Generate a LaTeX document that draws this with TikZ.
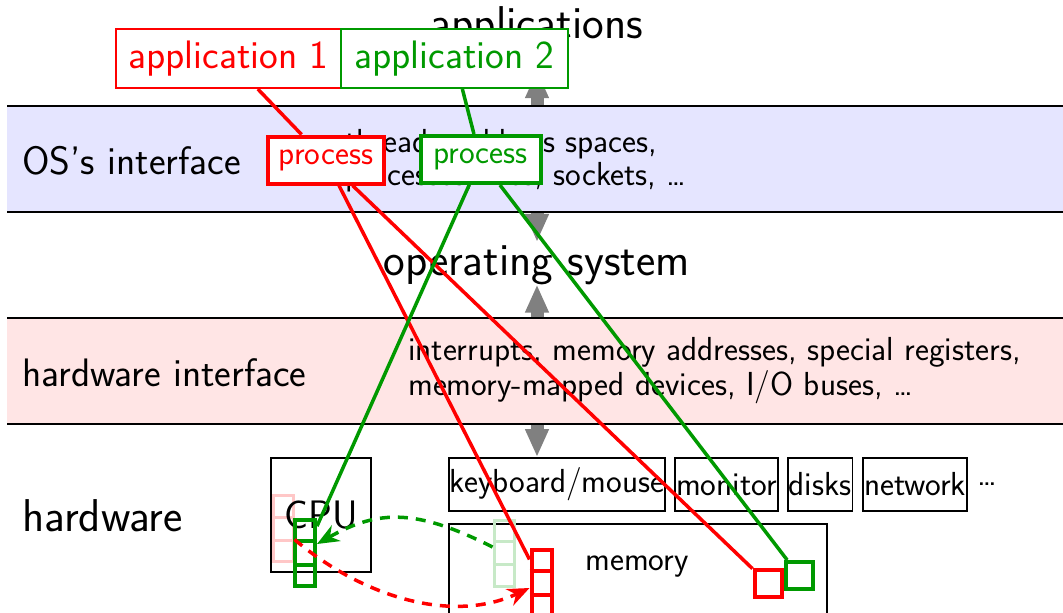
\documentclass[tikz,border=0pt]{standalone}
\usepackage{fontspec}
\renewcommand\familydefault{\sfdefault}
\usetikzlibrary{arrows.meta,positioning,calc}

\definecolor{appred}{RGB}{255,0,0}
\definecolor{appgreen}{RGB}{0,153,0}
\definecolor{layergray}{RGB}{128,128,128}

% horizontal dividers of a register column (node, colour, line width)
\newcommand\regdividers[3]{%
  \foreach \f in {1,2}
    \draw[#2, line width=#3]
      ($(#1.north west)!\f/3!(#1.south west)$) -- ($(#1.north east)!\f/3!(#1.south east)$);}

\begin{document}
\begin{tikzpicture}[x=1pt,y=-1pt,
  labelbig/.style={font=\fontsize{46}{52}\selectfont},
  labelmid/.style={font=\fontsize{39.7}{45}\selectfont},
  textbody/.style={font=\fontsize{33.3}{38}\selectfont},
  plain/.style={inner sep=0pt},
  appbox/.style={draw, fill=white, line width=2pt, labelmid, minimum height=59pt, inner sep=0pt},
  procbox/.style={draw, fill=white, line width=4pt, textbody, minimum height=47pt, inner sep=0pt},
  devbox/.style={draw, line width=1.8pt, textbody, minimum height=53pt, inner xsep=1pt, inner ysep=0pt},
  regcol/.style={draw, rectangle, minimum width=20pt, minimum height=66pt, inner sep=0pt},
  slot/.style={draw, rectangle, minimum width=27pt, minimum height=27pt, inner sep=0pt, line width=4pt},
  link/.style={line width=3.5pt},
  move/.style={link, dash pattern=on 10pt off 8pt},
  layerarrow/.style={draw=layergray, line width=13pt,
    {Triangle[width=22pt,length=28pt]}-{Triangle[width=22pt,length=28pt]}},
]
\useasboundingbox (0,0) rectangle (1063,613);

% layer names in the middle column
\node[labelbig, anchor=base, inner sep=3pt] (apps) at (537,38) {applications};
\node[labelbig, anchor=base, inner sep=3pt] (os) at (537,275) {operating system};

% hardware devices
\node[devbox, anchor=west] (kbd) at (448,484.5) {keyboard/mouse};
\node[devbox, right=8pt of kbd] (mon) {monitor};
\node[devbox, right=8pt of mon] (disks) {disks};
\node[devbox, right=9pt of disks] (net) {network};
\node[textbody, right=10pt of net, inner sep=0pt] (more) {\ldots};

% arrows between the layers (partly hidden by the bands)
\draw[layerarrow] ([yshift=-20pt]apps.south) -- (apps.south |- os.north);
\draw[layerarrow] ([yshift=3pt]os.south) -- (os.south |- kbd.north);

% interface bands
\fill[blue!10] (7,106) rectangle (1063,212);
\draw[line width=2.5pt] (7,106) -- (1063,106) (7,212) -- (1063,212);
\fill[red!10] (7,318) rectangle (1063,424);
\draw[line width=2.5pt] (7,318) -- (1063,318) (7,424) -- (1063,424);

\node[labelmid, plain, anchor=base west] (osif) at (22,174) {OS's interface};
\node[textbody, plain, anchor=base west] (osifa) at (345,152) {threads, address spaces,};
\node[textbody, plain, anchor=base west] (osifb) at (345,185) {processes, files, sockets, \ldots};

\node[labelmid, plain, anchor=base west] (hwif) at (22,386) {hardware interface};
\node[textbody, plain, anchor=base west] (hwifa) at (408,360) {interrupts, memory addresses, special registers,};
\node[textbody, plain, anchor=base west] (hwifb) at (408,395) {memory-mapped devices, I/O buses, \ldots};

\node[labelbig, plain, anchor=base west] (hw) at (22,531) {hardware};

% CPU with its register columns
\node[regcol, draw=appred!22, line width=3pt] (pinkcol) at (283,528.5) {};
\regdividers{pinkcol}{appred!22}{3pt}
\node[draw, line width=1.8pt, minimum width=100pt, minimum height=114pt, labelmid, inner sep=0pt] (cpu) at (321,515) {CPU};
\node[regcol, draw=appgreen, line width=4pt] (greencpu) at (305,553) {};
\regdividers{greencpu}{appgreen}{4pt}

% memory with saved registers and data
\node[draw, line width=1.8pt, minimum width=378pt, minimum height=120pt, anchor=north west] (mem) at (448,523) {};
\node[textbody, plain, anchor=base] (memlabel) at (637,570) {memory};
\node[regcol, draw=appgreen!22, line width=3pt] (greenmem) at (504,553) {};
\regdividers{greenmem}{appgreen!22}{3pt}
\node[regcol, draw=appred, line width=4pt] (redmem) at (541.5,583) {};
\regdividers{redmem}{appred}{4pt}
\node[slot, draw=appred] (redsq) at (768,583.5) {};
\node[slot, draw=appgreen] (greensq) at (799,575.5) {};

% processes and applications
\node[procbox, draw=appred, text=appred, minimum width=116pt] (proc1) at (326,160) {process};
\node[procbox, draw=appgreen, text=appgreen, minimum width=120pt] (proc2) at (480.5,159.5) {process};
\node[appbox, draw=appred, text=appred, minimum width=225pt] (app1) at (228.5,58.5) {application 1};
\node[appbox, draw=appgreen, text=appgreen, minimum width=227pt] (app2) at (454.5,58.5) {application 2};

% ownership links
\draw[link, appred] (app1) -- (proc1);
\draw[link, appred] (proc1) -- (redmem);
\draw[link, appred] (proc1) -- (redsq);
\draw[link, appgreen] (app2) -- (proc2);
\draw[link, appgreen] (proc2) -- (greencpu);
\draw[link, appgreen] (proc2) -- (greensq);

% register save / restore
\draw[move, appgreen, -{Stealth[length=22pt,width=18pt]}]
  ([yshift=6pt]greenmem.west) .. controls (417,509) and (379,509) .. ([yshift=9pt]greencpu.east);
\draw[move, appred, -{Stealth[length=22pt,width=18pt]}]
  ([yshift=-11pt]pinkcol.east) .. controls (360,595) and (450,625) .. ([yshift=-5pt]redmem.west);
\end{tikzpicture}
\end{document}
